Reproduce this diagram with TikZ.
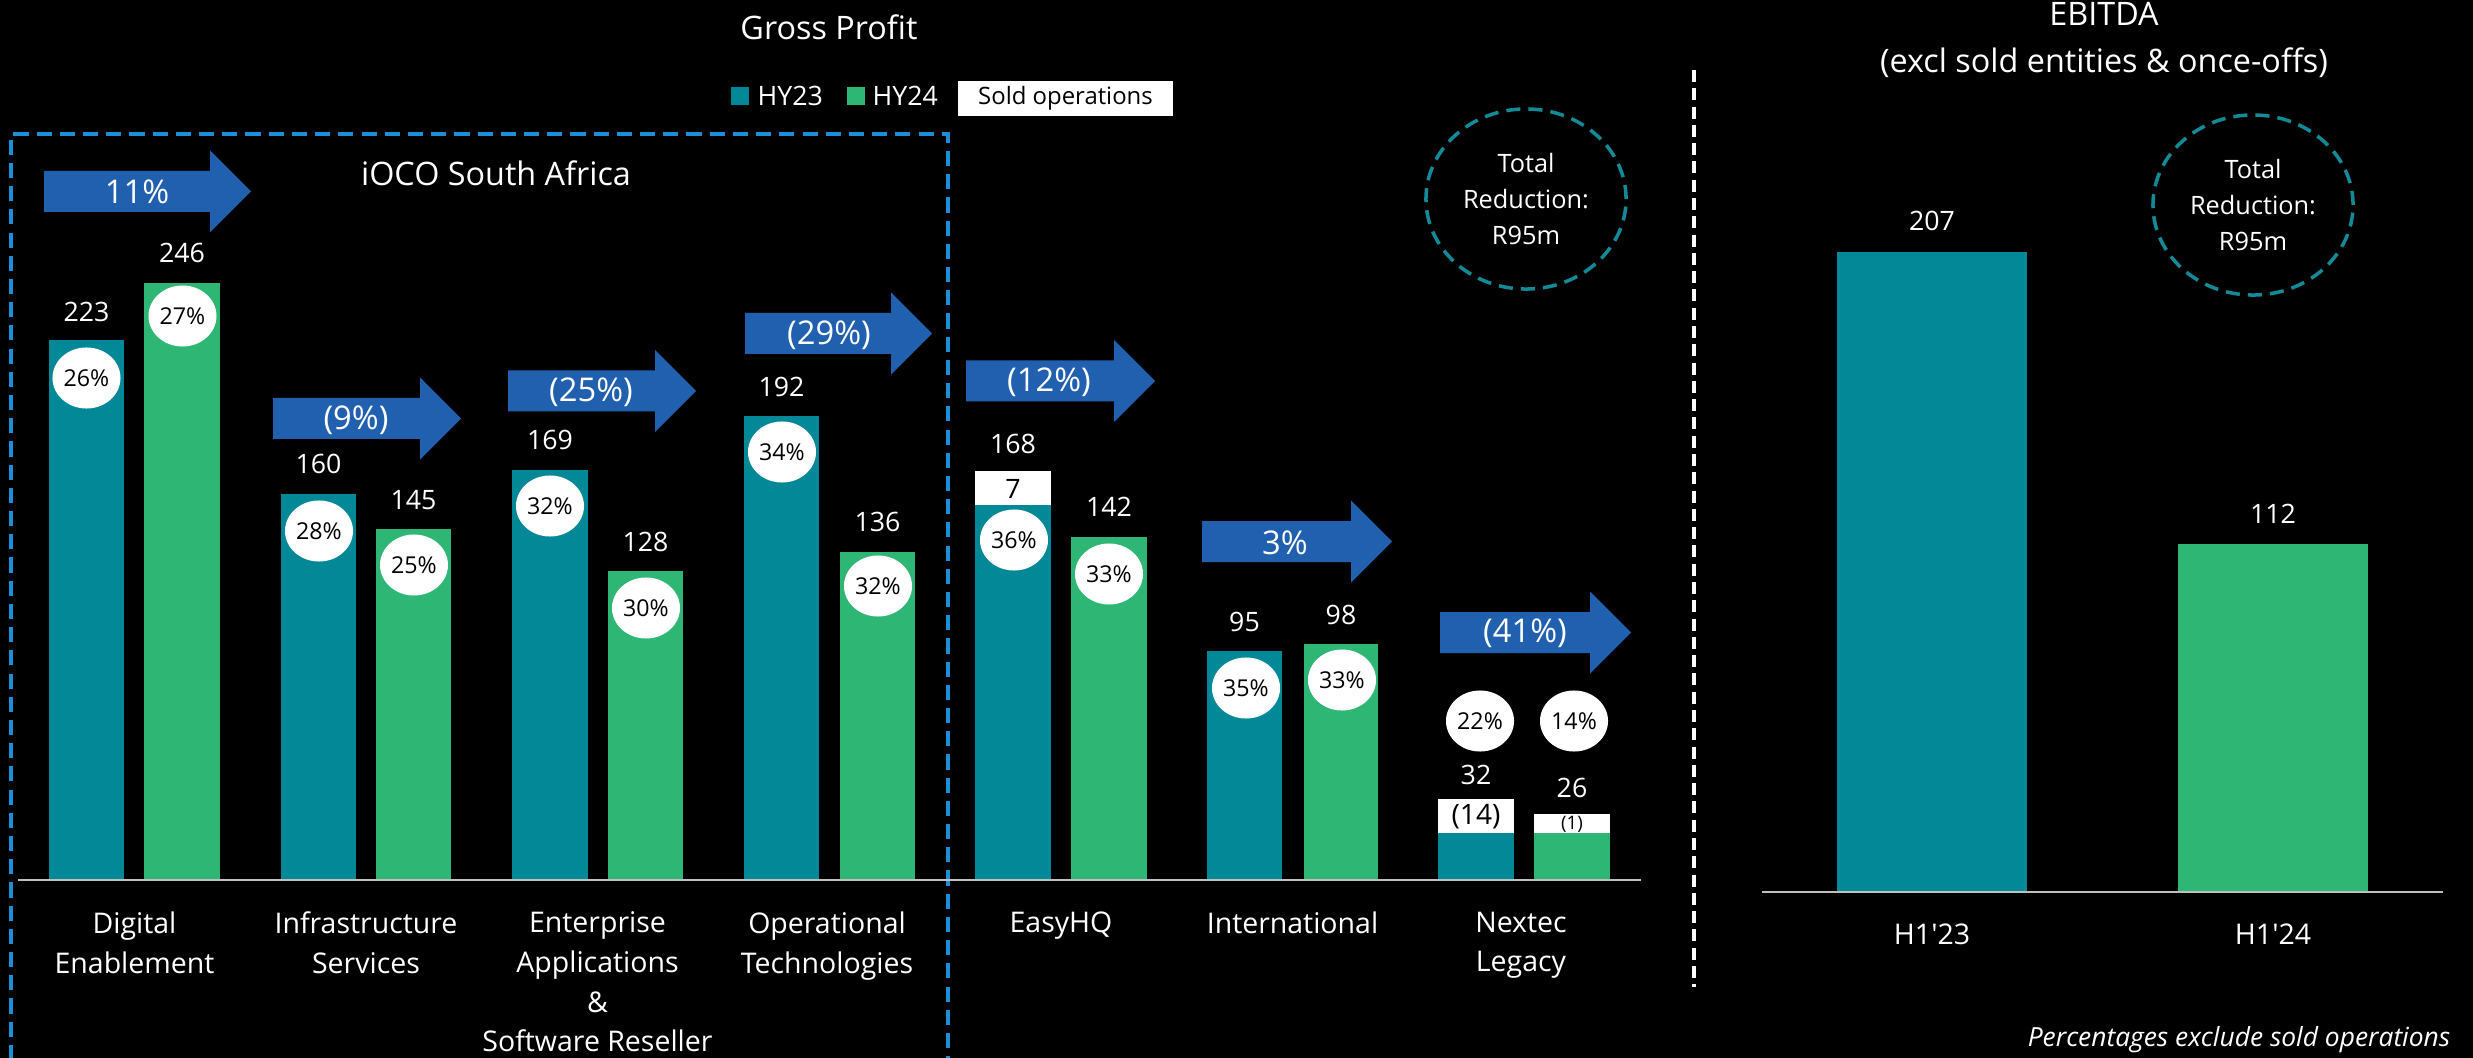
\documentclass[tikz,border=0pt]{standalone}
\usepackage{fontspec}
\setmainfont{Open Sans}
\newfontfamily\plainos{Open Sans}
\usetikzlibrary{shapes.geometric}
\definecolor{tealbar}{HTML}{028897}
\definecolor{greenbar}{HTML}{2DB674}
\definecolor{arrblue}{HTML}{2060AE}
\definecolor{boxblue}{HTML}{1B8FD8}
\definecolor{circteal}{HTML}{138A97}
\definecolor{axgray}{HTML}{BFBFBF}
\newcommand\garrow[4]{% x0, yc, body length, colour
  \fill[#4] (#1,{#2-20.5}) -- ({#1+#3},{#2-20.5}) -- ({#1+#3},{#2-41}) -- ({#1+#3+41},#2)
    -- ({#1+#3},{#2+41}) -- ({#1+#3},{#2+20.5}) -- (#1,{#2+20.5}) -- cycle;}
\begin{document}
\begin{tikzpicture}[x=0.01cm,y=-0.01cm,
  val/.style={text=white,inner sep=0pt,font=\fontsize{7.6pt}{9pt}\selectfont},
  pct/.style={ellipse,fill=white,inner sep=0pt,minimum width=0.68cm,minimum height=0.61cm,text=black,font=\fontsize{6.6pt}{8pt}\selectfont},
  soldtxt/.style={text=black,inner sep=0pt},
  cat/.style={text=white,inner sep=0pt,align=center,anchor=north,font=\fontsize{8.1pt}{11.3pt}\selectfont},
  arrlbl/.style={text=white,inner sep=0pt,font=\fontsize{9.3pt}{11pt}\selectfont},
  ttl/.style={text=white,inner sep=0pt,font=\fontsize{9.2pt}{13.6pt}\selectfont},
  totred/.style={ellipse,draw=circteal,line width=1pt,dash pattern=on 4pt off 2.3pt,minimum width=2cm,minimum height=1.8cm,inner sep=0pt,align=center,text=white,font=\fontsize{7.2pt}{10.3pt}\selectfont},
  legtxt/.style={text=white,inner sep=0pt,anchor=west,font=\fontsize{7.6pt}{9pt}\selectfont}]
\fill[black] (0,0) rectangle (2473,1058);
\useasboundingbox (0,0) rectangle (2473,1058);

% titles
\node[ttl] (gp) at (829,27) {Gross Profit};
\node[ttl,align=center] (eb) at (2104,40) {EBITDA\\(excl sold entities \& once-offs)};

% legend
\fill[tealbar] (731,87) rectangle (749,105);
\node[legtxt] (l23) at (757,96) {HY23};
\fill[greenbar] (847,87) rectangle (865,105);
\node[legtxt] (l24) at (872,96) {HY24};
\node[fill=white,minimum width=2.15cm,minimum height=0.35cm,inner sep=0pt,text=black,font=\fontsize{6.8pt}{8pt}\selectfont] (lso) at (1065.5,98.5) {Sold operations};

% iOCO SA dashed box
\draw[boxblue,line width=1.2pt,dash pattern=on 4.3pt off 2.3pt] (11,1060) -- (11,134) -- (948,134) -- (948,1060);
\node[ttl] (ioco) at (496,173) {iOCO South Africa};

% bars
\fill[tealbar] (49,880) rectangle (124,340);
\fill[greenbar] (144,880) rectangle (220,283);
\fill[tealbar] (281,880) rectangle (356,494);
\fill[greenbar] (376,880) rectangle (451,529);
\fill[tealbar] (512,880) rectangle (588,470);
\fill[greenbar] (608,880) rectangle (683,571);
\fill[tealbar] (744,880) rectangle (819,416);
\fill[greenbar] (840,880) rectangle (915,552);
\fill[tealbar] (975,880) rectangle (1051,505);
\fill[white] (975,505) rectangle (1051,471);
\fill[greenbar] (1071,880) rectangle (1147,537);
\fill[tealbar] (1207,880) rectangle (1282,651);
\fill[greenbar] (1304,880) rectangle (1378,644);
\fill[tealbar] (1438,880) rectangle (1514,833);
\fill[white] (1438,833) rectangle (1514,799);
\fill[greenbar] (1534,880) rectangle (1610,833);
\fill[white] (1534,833) rectangle (1610,814);
\draw[axgray,line width=0.8pt] (18,880) -- (1641,880);

% sold operations values
\node[soldtxt,font=\fontsize{7.6pt}{9pt}\selectfont] (s7) at (1013,489) {7};
\node[soldtxt,font=\fontsize{8pt}{9pt}\selectfont] (s14) at (1476,817) {(14)};
\node[soldtxt,font=\fontsize{5.3pt}{6pt}\selectfont] (s1) at (1572,824) {(1)};

% value labels
\node[val] (v1) at (86.5,312) {223};
\node[val] (v2) at (182,253) {246};
\node[val] (v3) at (318.5,464) {160};
\node[val] (v4) at (413.5,500) {145};
\node[val] (v5) at (550,440) {169};
\node[val] (v6) at (645.5,542) {128};
\node[val] (v7) at (781.5,387) {192};
\node[val] (v8) at (877.5,522) {136};
\node[val] (v9) at (1013,444) {168};
\node[val] (v10) at (1109,507) {142};
\node[val] (v11) at (1244.5,622) {95};
\node[val] (v12) at (1341,615) {98};
\node[val] (v13) at (1476,775) {32};
\node[val] (v14) at (1572,788) {26};

% margin ellipses
\node[pct] (p1) at (86.5,378) {26\%};
\node[pct] (p2) at (182.5,316) {27\%};
\node[pct] (p3) at (319,531) {28\%};
\node[pct] (p4) at (414,565) {25\%};
\node[pct] (p5) at (550,506) {32\%};
\node[pct] (p6) at (646,608) {30\%};
\node[pct] (p7) at (782,452) {34\%};
\node[pct] (p8) at (878,586) {32\%};
\node[pct] (p9) at (1014,540) {36\%};
\node[pct] (p10) at (1109,574) {33\%};
\node[pct] (p11) at (1246,688) {35\%};
\node[pct] (p12) at (1342,680) {33\%};
\node[pct] (p13) at (1480,721) {22\%};
\node[pct] (p14) at (1574,721) {14\%};

% growth arrows
\garrow{44}{191.5}{166}{arrblue}
\node[arrlbl] (a1) at (137,192) {11\%};
\garrow{273}{418.5}{147}{arrblue}
\node[arrlbl] (a2) at (356,420) {(9\%)};
\garrow{508}{391}{147}{arrblue}
\node[arrlbl] (a3) at (591,392) {(25\%)};
\garrow{745}{333.5}{146}{arrblue}
\node[arrlbl] (a4) at (829,335) {(29\%)};
\garrow{966}{381}{148}{arrblue}
\node[arrlbl] (a5) at (1049,382) {(12\%)};
\garrow{1202}{541.5}{149}{arrblue}
\node[arrlbl] (a6) at (1285,543) {3\%};
\garrow{1440}{632.5}{150}{arrblue}
\node[arrlbl] (a7) at (1525,633) {(41\%)};

% category labels
\node[cat] (c1) at (134.5,911) {Digital\\Enablement};
\node[cat] (c2) at (366,911) {Infrastructure\\Services};
\node[cat] (c3) at (597.5,911) {Enterprise\\Applications\\\&\\Software Reseller};
\node[cat] (c4) at (827,911) {Operational\\Technologies};
\node[cat] (c5) at (1061,911) {EasyHQ};
\node[cat] (c6) at (1292.5,911) {International};
\node[cat] (c7) at (1521,911) {Nextec\\Legacy};

% total reduction circles
\node[totred] (tr1) at (1526,199) {Total\\Reduction:\\R95m};
\node[totred] (tr2) at (2253,205) {Total\\Reduction:\\R95m};

% separator
\draw[white,line width=0.9pt,dash pattern=on 3.4pt off 1.8pt] (1694,70) -- (1694,987);

% EBITDA chart
\fill[tealbar] (1837,892) rectangle (2027,252);
\fill[greenbar] (2178,892) rectangle (2368,544);
\draw[axgray,line width=0.8pt] (1762,892) -- (2443,892);
\node[val] (e1) at (1932,221) {207};
\node[val] (e2) at (2273,514) {112};
\node[cat] (h1) at (1932,923) {\plainos H1'23};
\node[cat] (h2) at (2273,923) {\plainos H1'24};

\node[text=white,inner sep=0pt,anchor=base east,font=\fontsize{7.5pt}{9pt}\selectfont\itshape] (note) at (2451,1046) {Percentages exclude sold operations};
\end{tikzpicture}
\end{document}
